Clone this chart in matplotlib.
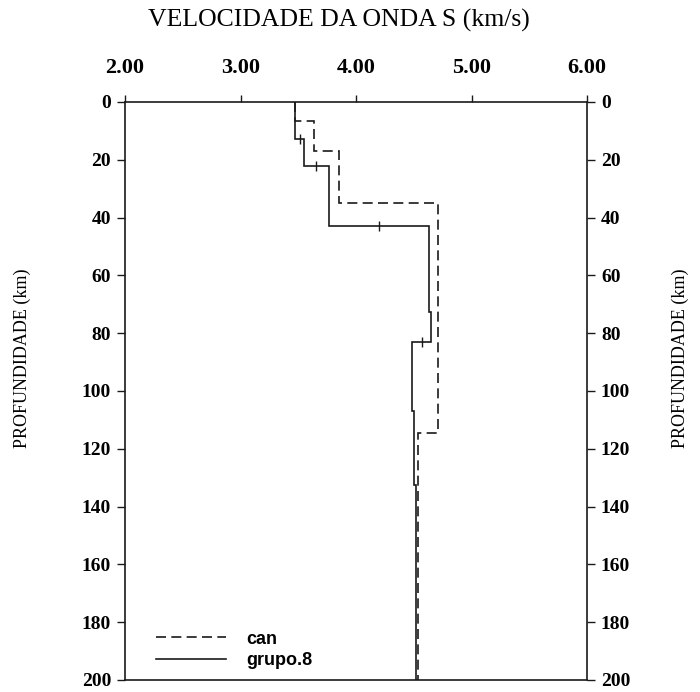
import numpy as np
import matplotlib
matplotlib.use("Agg")
import matplotlib.pyplot as plt

# S-wave velocity models: layer boundaries (km) and layer velocities (km/s)
can_edges = [0.0, 6.5, 17.0, 35.0, 114.6, 200.0]
can_vs = [3.47, 3.64, 3.85, 4.71, 4.54]

grupo8_edges = [0.0, 12.7, 22.0, 43.0, 72.6, 83.0, 107.0, 132.5, 200.0]
grupo8_vs = [3.47, 3.55, 3.77, 4.63, 4.65, 4.485, 4.50, 4.52]

# small error marks on the grupo.8 model interfaces
err_depth = [12.7, 22.0, 43.0, 83.0]
err_vs = [3.515, 3.65, 4.20, 4.57]

depth_ticks = list(range(0, 201, 20))
vel_ticks = [2.0, 3.0, 4.0, 5.0, 6.0]

serif = ["Liberation Serif", "DejaVu Serif"]
sans = ["Liberation Sans", "DejaVu Sans"]

fig = plt.figure(figsize=(7.0, 6.92), dpi=100)
ax = fig.add_axes([125 / 700, 1 - 680 / 692, (587 - 125) / 700, (680 - 102) / 692])

ink = "#1a1a1a"
lw = 1.2

ax.stairs(can_vs, can_edges, orientation="horizontal", baseline=None,
          color=ink, lw=lw, linestyle=(0, (6.0, 3.2)), label="can")
ax.stairs(grupo8_vs, grupo8_edges, orientation="horizontal", baseline=None,
          color=ink, lw=lw, label="grupo.8")
ax.plot(err_vs, err_depth, linestyle="none", marker="|", markersize=7,
        markeredgewidth=1.0, color=ink)

ax.set_xlim(2.0, 6.0)
ax.set_ylim(200, 0)

for side in ("left", "right", "top", "bottom"):
    ax.spines[side].set_linewidth(lw)
    ax.spines[side].set_color(ink)

ax.xaxis.set_ticks_position("top")
ax.set_xticks(vel_ticks)
ax.set_xticklabels([f"{v:.2f}" for v in vel_ticks])
ax.tick_params(axis="x", which="both", top=True, bottom=False, direction="out",
               length=5, width=1.0, color=ink, pad=12)

ax.set_yticks(depth_ticks)
ax.tick_params(axis="y", which="both", left=True, right=True, labelleft=True,
               labelright=True, direction="out", length=6, width=1.0,
               color=ink, pad=4)

for t in ax.xaxis.get_major_ticks():
    for lab in (t.label1, t.label2):
        lab.set_fontfamily(serif)
        lab.set_fontweight("bold")
        lab.set_fontsize(16)
for t in ax.yaxis.get_major_ticks():
    for lab in (t.label1, t.label2):
        lab.set_fontfamily(serif)
        lab.set_fontweight("bold")
        lab.set_fontsize(14)

fig.text(339 / 700, 1 - 20 / 692, "VELOCIDADE DA ONDA S (km/s)", ha="center",
         va="center", family=serif, fontsize=18.5)
fig.text(22 / 700, 1 - 358 / 692, "PROFUNDIDADE (km)", ha="center", va="center",
         rotation=90, family=serif, fontsize=13)
fig.text(680 / 700, 1 - 358 / 692, "PROFUNDIDADE (km)", ha="center", va="center",
         rotation=90, family=serif, fontsize=13)

leg = ax.legend(loc="center left", bbox_to_anchor=(0.067, 0.052), frameon=False,
                borderpad=0, borderaxespad=0,
                handlelength=3.9, handletextpad=1.1, labelspacing=0.25,
                prop={"family": sans, "size": 13, "weight": "bold"})

fig.savefig("out.png", dpi=100)
